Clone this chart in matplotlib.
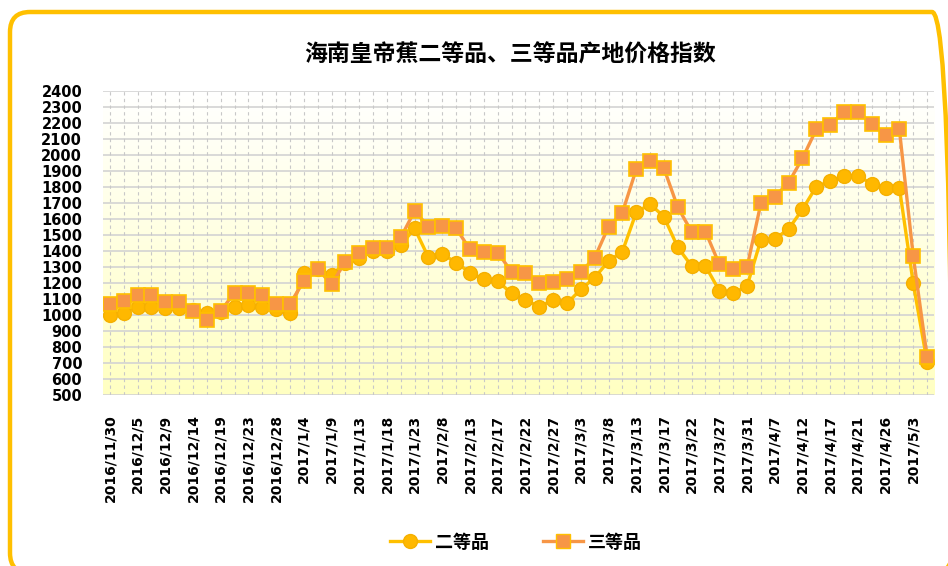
import numpy as np
import matplotlib
matplotlib.use("Agg")
import matplotlib.pyplot as plt
from matplotlib.patches import FancyBboxPatch
from matplotlib.lines import Line2D
from matplotlib.colors import LinearSegmentedColormap

plt.rcParams['font.family'] = ['DejaVu Sans', 'Noto Sans CJK SC']

title = "海南皇帝蕉二等品、三等品产地价格指数"
series_names = ["二等品", "三等品"]

tick_labels = ["2016/11/30", "2016/12/5", "2016/12/9", "2016/12/14", "2016/12/19",
               "2016/12/23", "2016/12/28", "2017/1/4", "2017/1/9", "2017/1/13",
               "2017/1/18", "2017/1/23", "2017/2/8", "2017/2/13", "2017/2/17",
               "2017/2/22", "2017/2/27", "2017/3/3", "2017/3/8", "2017/3/13",
               "2017/3/17", "2017/3/22", "2017/3/27", "2017/3/31", "2017/4/7",
               "2017/4/12", "2017/4/17", "2017/4/21", "2017/4/26", "2017/5/3"]

grade2 = [1000, 1015, 1050, 1050, 1045, 1045, 1030, 1010, 1020, 1050,
          1060, 1050, 1040, 1015, 1260, 1285, 1248, 1328, 1358, 1398,
          1400, 1437, 1541, 1360, 1381, 1327, 1265, 1223, 1212, 1135,
          1094, 1052, 1094, 1073, 1160, 1233, 1337, 1396, 1641, 1694,
          1614, 1423, 1306, 1306, 1152, 1135, 1181, 1469, 1475, 1537,
          1660, 1802, 1837, 1871, 1871, 1819, 1796, 1796, 1198, 708]

grade3 = [1070, 1090, 1125, 1125, 1083, 1083, 1025, 970, 1025, 1140,
          1140, 1125, 1070, 1070, 1212, 1288, 1192, 1333, 1385, 1418,
          1418, 1485, 1650, 1552, 1558, 1541, 1410, 1396, 1390, 1270,
          1265, 1198, 1208, 1225, 1270, 1358, 1552, 1640, 1910, 1962,
          1917, 1673, 1521, 1521, 1317, 1285, 1298, 1698, 1740, 1827,
          1979, 2160, 2187, 2271, 2271, 2194, 2125, 2160, 1369, 740]

yticks = list(range(500, 2401, 100))

fig = plt.figure(figsize=(9.48, 5.66), dpi=100)
fig.patch.set_facecolor('white')

# rounded gold border (partly beyond the right and bottom edges)
border = FancyBboxPatch((0.10, -0.07), 9.42, 5.61,
                        boxstyle="round,pad=0,rounding_size=0.20",
                        transform=fig.dpi_scale_trans, facecolor='none',
                        edgecolor='#FFC000', linewidth=3.2, clip_on=False)
fig.patches.append(border)

ax = fig.add_axes([103/948, 1 - 395/566, (934 - 103)/948, (395 - 91)/566])
n = len(grade2)
x = np.arange(n)
ax.set_xlim(-0.5, n - 0.5)
ax.set_ylim(500, 2400)

# gradient background
grad = np.linspace(0, 1, 256).reshape(-1, 1)
cmap = LinearSegmentedColormap.from_list('bg', ['#FFFFC2', '#FFFFFF'])
ax.imshow(grad, cmap=cmap, aspect='auto', extent=[0, 1, 0, 1],
          transform=ax.transAxes, origin='lower', zorder=0)

for v in yticks:
    ax.axhline(v, color='#D3D3D3', lw=1.2, zorder=1)
for xi in x:
    ax.axvline(xi, color='#C8C8C8', lw=0.8, ls=(0, (3, 3)), zorder=1)

ax.plot(x, grade2, color='#FFC000', lw=2.4, marker='o', markersize=10,
        markerfacecolor='#FFB800', markeredgecolor='#F5B000', markeredgewidth=1,
        zorder=3, label=series_names[0])
ax.plot(x, grade3, color='#F79646', lw=2.4, marker='s', markersize=9.5,
        markerfacecolor='#F79646', markeredgecolor='#FFC000', markeredgewidth=1.2,
        zorder=4, label=series_names[1])

for s in ax.spines.values():
    s.set_visible(False)

ax.set_yticks(yticks)
ax.set_yticklabels([str(v) for v in yticks], fontsize=10.5, fontweight='bold')
ax.set_xticks(x[::2])
ax.set_xticklabels(tick_labels, rotation=90, fontsize=10, fontweight='bold')
ax.tick_params(axis='y', length=0, pad=15)
ax.tick_params(axis='x', length=0, pad=14)

fig.text(510/948, 1 - 55/566, title, ha='center', va='center', fontsize=16.5,
         fontweight='bold', family=['Noto Sans CJK SC', 'DejaVu Sans'])

handles = [Line2D([], [], color='#FFC000', lw=2.4, marker='o', markersize=10,
                  markerfacecolor='#FFB800', markeredgecolor='#F5B000'),
           Line2D([], [], color='#F79646', lw=2.4, marker='s', markersize=9.5,
                  markerfacecolor='#F79646', markeredgecolor='#FFC000')]
fig.legend(handles, series_names, loc='center', ncol=2,
           bbox_to_anchor=(516/948, 1 - 542/566), frameon=False,
           prop={'family': ['Noto Sans CJK SC', 'DejaVu Sans'], 'weight': 'bold', 'size': 13},
           handlelength=2.2, handletextpad=0.3, columnspacing=3.0)

fig.savefig('out.png', dpi=100)
